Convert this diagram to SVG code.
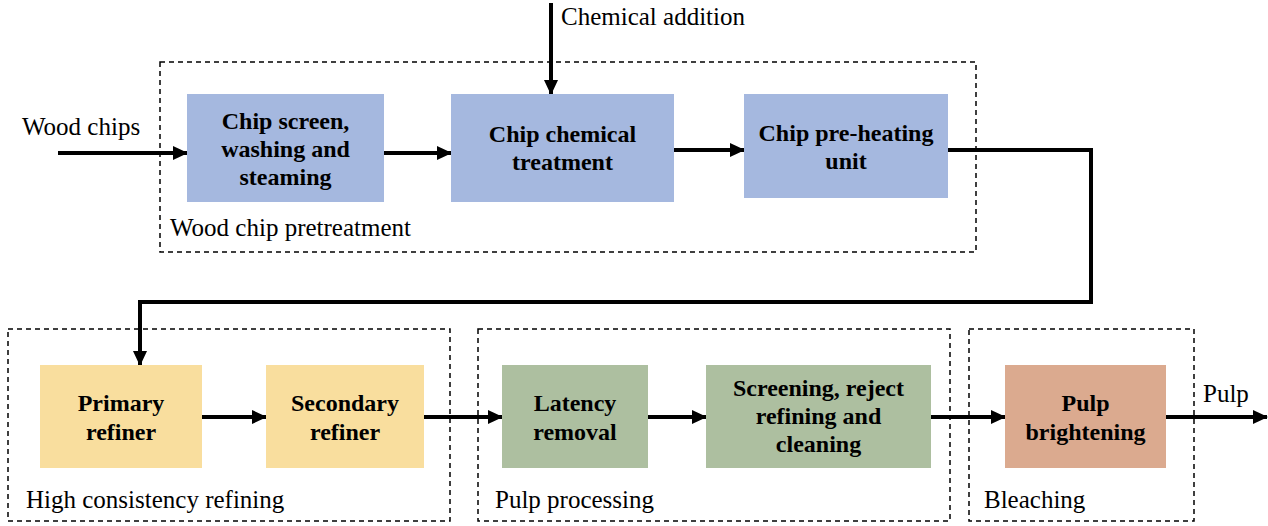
<svg xmlns="http://www.w3.org/2000/svg" width="1268" height="526" viewBox="0 0 1268 526">
<style>
.grp{fill:none;stroke:#000;stroke-width:1.5;stroke-dasharray:5,4}
.lbl{font-family:"Liberation Serif","Times New Roman",serif;font-size:25px;fill:#000}
.nt{font-family:"Liberation Serif","Times New Roman",serif;font-size:24px;font-weight:bold;fill:#000;text-anchor:middle}
.blue{fill:#A5B8DF}
.yel{fill:#F9DE9E}
.grn{fill:#ADBFA0}
.sal{fill:#DBAA8F}
.con{fill:none;stroke:#000;stroke-width:4;marker-end:url(#ah)}
</style>
<defs>
<marker id="ah" markerUnits="userSpaceOnUse" markerWidth="16" markerHeight="16" viewBox="0 0 16 16" refX="14" refY="8" orient="auto">
<path d="M0,1 L15,8 L0,15 Z" fill="#000"/>
</marker>
</defs>
<rect width="1268" height="526" fill="#fff"/>
<g id="groups">
<rect id="grp-pretreatment" class="grp" x="160" y="62" width="816" height="190"/>
<rect id="grp-hcr" class="grp" x="8" y="329" width="442" height="192"/>
<rect id="grp-pulp" class="grp" x="478" y="329" width="472" height="192"/>
<rect id="grp-bleach" class="grp" x="969" y="329" width="225" height="192"/>
<text class="lbl" x="170" y="236">Wood chip pretreatment</text>
<text class="lbl" x="26" y="508">High consistency refining</text>
<text class="lbl" x="495" y="508">Pulp processing</text>
<text class="lbl" x="984" y="508">Bleaching</text>
</g>
<g id="connectors">
<path class="con" d="M58,153 H187"/>
<path class="con" d="M384,153 H451"/>
<path class="con" d="M551,3 V94"/>
<path class="con" d="M674,150 H744"/>
<path class="con" d="M948,150 H1091 V302 H140 V365"/>
<path class="con" d="M202,417 H266"/>
<path class="con" d="M424,417 H502"/>
<path class="con" d="M648,417 H706"/>
<path class="con" d="M931,417 H1005"/>
<path class="con" d="M1166,417 H1267"/>
<text class="lbl" x="22" y="135">Wood chips</text>
<text class="lbl" x="561" y="25">Chemical addition</text>
<text class="lbl" x="1203" y="402">Pulp</text>
</g>
<g id="n-chipscreen">
<rect class="blue" x="187" y="94" width="197" height="108"/>
<text class="nt" x="285.5" y="129">Chip screen,</text>
<text class="nt" x="285.5" y="157">washing and</text>
<text class="nt" x="285.5" y="185">steaming</text>
</g>
<g id="n-chemical">
<rect class="blue" x="451" y="94" width="223" height="108"/>
<text class="nt" x="562.5" y="142">Chip chemical</text>
<text class="nt" x="562.5" y="170">treatment</text>
</g>
<g id="n-preheat">
<rect class="blue" x="744" y="94" width="204" height="104"/>
<text class="nt" x="846" y="141">Chip pre-heating</text>
<text class="nt" x="846" y="169">unit</text>
</g>
<g id="n-primary">
<rect class="yel" x="40" y="365" width="162" height="103"/>
<text class="nt" x="121" y="411">Primary</text>
<text class="nt" x="121" y="440">refiner</text>
</g>
<g id="n-secondary">
<rect class="yel" x="266" y="365" width="158" height="103"/>
<text class="nt" x="345" y="411">Secondary</text>
<text class="nt" x="345" y="440">refiner</text>
</g>
<g id="n-latency">
<rect class="grn" x="502" y="365" width="146" height="103"/>
<text class="nt" x="575" y="411">Latency</text>
<text class="nt" x="575" y="440">removal</text>
</g>
<g id="n-screening">
<rect class="grn" x="706" y="365" width="225" height="103"/>
<text class="nt" x="818.5" y="396">Screening, reject</text>
<text class="nt" x="818.5" y="424">refining and</text>
<text class="nt" x="818.5" y="452">cleaning</text>
</g>
<g id="n-brightening">
<rect class="sal" x="1005" y="365" width="161" height="103"/>
<text class="nt" x="1085.5" y="411">Pulp</text>
<text class="nt" x="1085.5" y="440">brightening</text>
</g>
</svg>
